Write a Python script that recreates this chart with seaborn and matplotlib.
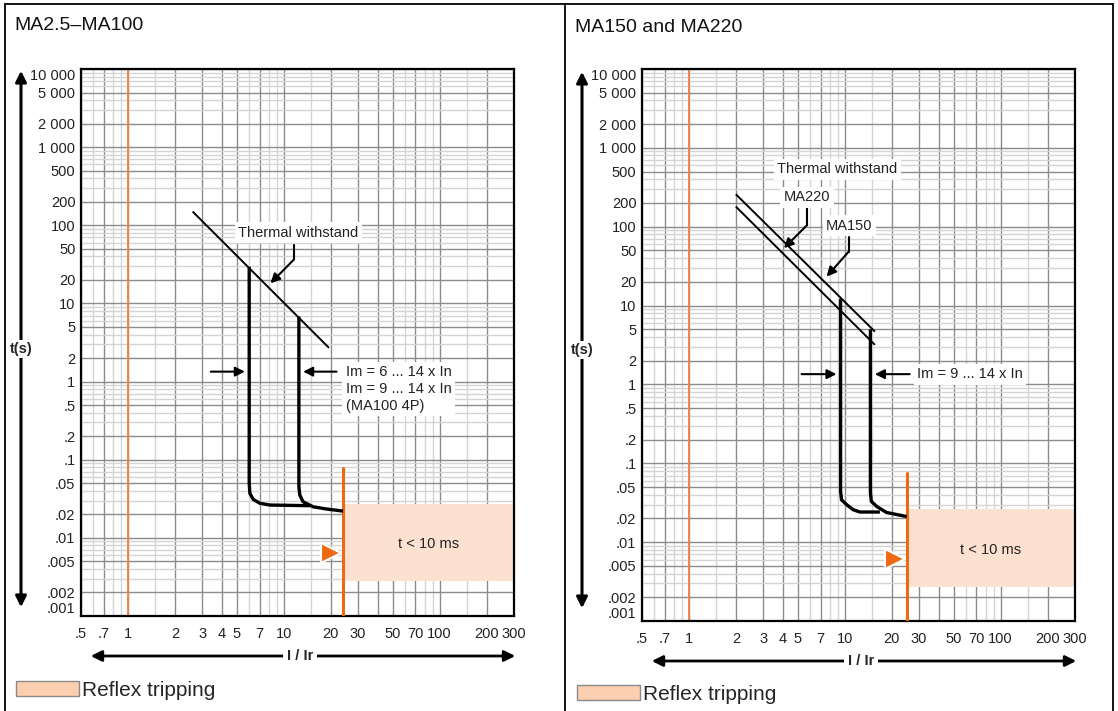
import matplotlib
matplotlib.use('Agg')
import matplotlib.pyplot as plt
from matplotlib.patches import Patch, FancyArrowPatch
from matplotlib.lines import Line2D
import seaborn as sns

sns.set_style('white')
plt.rcParams['font.family'] = ['Liberation Sans', 'DejaVu Sans']

W, H = 1118, 711

# axis ticks
x_ticks = [0.5, 0.7, 1, 2, 3, 4, 5, 7, 10, 20, 30, 40, 50, 70, 100, 200, 300]
x_labels = ['.5', '.7', '1', '2', '3', '4', '5', '7', '10', '20', '30', '', '50', '70', '100', '200', '300']
x_minor = [0.6, 0.8, 0.9, 1.5, 6, 8, 9, 15, 60, 80, 90, 150]
y_ticks = [0.001, 0.002, 0.005, 0.01, 0.02, 0.05, 0.1, 0.2, 0.5, 1, 2, 5, 10, 20, 50,
           100, 200, 500, 1000, 2000, 5000, 10000]
y_labels = ['.001', '.002', '.005', '.01', '.02', '.05', '.1', '.2', '.5', '1', '2', '5', '10',
            '20', '50', '100', '200', '500', '1 000', '2 000', '5 000', '10 000']
y_minor = [m * 10.0 ** e for e in range(-3, 4) for m in (3, 4, 6, 7, 8, 9)]

# left panel: MA2.5-MA100
left_thermal_x = [2.6, 19.5]
left_thermal_y = [150, 2.7]
left_im6_x = [6.0, 6.0, 6.06, 6.36, 7.02, 8.14, 14.7]
left_im6_y = [29.5, 0.050, 0.0371, 0.0311, 0.0277, 0.0263, 0.0258]
left_im14_x = [12.5, 12.5, 12.67, 13.3, 15.4, 18.8, 24.0]
left_im14_y = [6.8, 0.0452, 0.0353, 0.029, 0.025, 0.0234, 0.0220]
left_reflex_x = 24
left_reflex_top = 0.078
left_box_y = [0.0028, 0.027]

# right panel: MA150 and MA220
right_ma220_x = [2.0, 15.6]
right_ma220_y = [258, 4.68]
right_ma150_x = [2.0, 15.6]
right_ma150_y = [180, 3.18]
right_im9_x = [9.4, 9.4, 9.53, 10.3, 11.3, 12.5, 16.8]
right_im9_y = [12.2, 0.044, 0.0344, 0.0298, 0.0258, 0.0241, 0.0241]
right_im14_x = [14.6, 14.6, 14.8, 16.0, 18.5, 25.0]
right_im14_y = [5.0, 0.043, 0.0329, 0.0284, 0.0238, 0.0211]
right_reflex_x = 25
right_reflex_top = 0.075
right_box_y = [0.0027, 0.0262]

ORANGE = '#ee6a12'
BOX = '#fce1d1'

fig = plt.figure(figsize=(W / 100, H / 100), dpi=100)


def fx(px):
    return px / W


def fy(py):
    return 1 - py / H


def style_axes(ax):
    ax.set_xscale('log')
    ax.set_yscale('log')
    ax.set_xlim(0.5, 300)
    ax.set_ylim(0.001, 10000)
    ax.set_xticks(x_ticks, x_labels)
    ax.set_xticks(x_minor, minor=True)
    ax.set_yticks(y_ticks, y_labels)
    ax.set_yticks(y_minor, minor=True)
    ax.tick_params(which='both', length=0)
    ax.tick_params(axis='x', labelsize=10.5, pad=8, labelcolor='#222222')
    ax.tick_params(axis='y', labelsize=10.5, pad=4, labelcolor='#222222')
    ax.xaxis.set_minor_formatter(plt.NullFormatter())
    ax.yaxis.set_minor_formatter(plt.NullFormatter())
    ax.set_axisbelow(True)
    ax.grid(which='major', color='#8c8c8c', lw=1.0)
    ax.grid(which='minor', color='#d4d4d4', lw=1.0)
    for s in ax.spines.values():
        s.set_color('black')
        s.set_linewidth(1.6)
    ylab = ax.get_yticklabels()
    ylab[0].set_va('bottom')
    ylab[-1].set_va('top')
    ax.axvline(1, color='#f0823c', lw=1.3, zorder=1)


def reflex(ax, xr, top, box_y):
    ax.fill_between([xr, 300], box_y[0], box_y[1], color=BOX, lw=0, zorder=1.5)
    ax.plot([xr, xr], [0.001, top], color=ORANGE, lw=2.2, zorder=3)
    ax.text((xr * 300) ** 0.5, (box_y[0] * box_y[1]) ** 0.5 * 0.95, 't < 10 ms',
            ha='center', va='center', fontsize=10.5, color='#222222', zorder=4)


def label(ax, x, y, s, **kw):
    ax.text(x, y, s, fontsize=10.5, color='#222222', zorder=5,
            bbox=dict(fc='white', ec='none', pad=2.5), **kw)


def leader(ax, x, ytop, yelbow, tip):
    ax.plot([x, x], [ytop, yelbow], color='black', lw=1.5, zorder=4)
    ax.annotate('', xy=tip, xytext=(x, yelbow),
                arrowprops=dict(arrowstyle='-|>', color='black', lw=1.5,
                                mutation_scale=14, shrinkA=0, shrinkB=0), zorder=4)


def harrow(ax, x0, x1, y):
    ax.annotate('', xy=(x1, y), xytext=(x0, y),
                arrowprops=dict(arrowstyle='-|>', color='black', lw=1.5,
                                mutation_scale=14, shrinkA=0, shrinkB=0), zorder=4)


def curve(ax, xs, ys, lw):
    sns.lineplot(x=xs, y=ys, ax=ax, color='black', lw=lw, sort=False,
                 estimator=None, legend=False, zorder=3,
                 solid_joinstyle='round', solid_capstyle='butt')


# ---- left panel
ax_l = fig.add_axes([fx(81), fy(616), fx(514) - fx(81), fy(69) - fy(616)])
style_axes(ax_l)
reflex(ax_l, left_reflex_x, left_reflex_top, left_box_y)
curve(ax_l, left_thermal_x, left_thermal_y, 1.4)
curve(ax_l, left_im6_x, left_im6_y, 2.4)
curve(ax_l, left_im14_x, left_im14_y, 2.4)
ax_l.plot([20.2], [0.00634], marker='>', ms=14, color=ORANGE, mec='white', mew=1.5, zorder=5)
label(ax_l, 12.4, 80.4, 'Thermal withstand', ha='center', va='center')
leader(ax_l, 11.65, 56, 36.7, (8.22, 18.1))
harrow(ax_l, 3.4, 5.63, 1.34)
harrow(ax_l, 21.8, 13.3, 1.34)
label(ax_l, 24.9, 0.80, 'Im = 6 ... 14 x In\nIm = 9 ... 14 x In\n(MA100 4P)',
      ha='left', va='center', linespacing=1.25)

# ---- right panel
ax_r = fig.add_axes([fx(642), fy(621), fx(1075) - fx(642), fy(69) - fy(621)])
style_axes(ax_r)
reflex(ax_r, right_reflex_x, right_reflex_top, right_box_y)
curve(ax_r, right_ma220_x, right_ma220_y, 1.4)
curve(ax_r, right_ma150_x, right_ma150_y, 1.4)
curve(ax_r, right_im9_x, right_im9_y, 2.4)
curve(ax_r, right_im14_x, right_im14_y, 2.4)
ax_r.plot([20.9], [0.0062], marker='>', ms=14, color=ORANGE, mec='white', mew=1.5, zorder=5)
label(ax_r, 8.96, 535, 'Thermal withstand', ha='center', va='center')
label(ax_r, 5.74, 237, 'MA220', ha='center', va='center')
label(ax_r, 10.7, 103, 'MA150', ha='center', va='center')
leader(ax_r, 5.74, 171, 105, (4.07, 53.5))
leader(ax_r, 10.6, 75, 48.3, (7.64, 23.3))
harrow(ax_r, 5.28, 8.85, 1.35)
harrow(ax_r, 26.1, 15.6, 1.35)
label(ax_r, 29.1, 1.35, 'Im = 9 ... 14 x In', ha='left', va='center')

# ---- frame, titles, axis arrows, legends
for (x0, y0, x1, y1) in [(5, 4, 1113, 4), (5, 4, 5, 711), (565, 4, 565, 711), (1113, 4, 1113, 711)]:
    fig.add_artist(Line2D([fx(x0), fx(x1)], [fy(y0), fy(y1)], color='black', lw=1.3))

for xoff, title, dy in [(0, 'MA2.5–MA100', 0), (561, 'MA150 and MA220', 1)]:
    fig.text(fx(14 + xoff), fy(26 + dy), title, fontsize=14, ha='left', va='center', color='#111111')
    fig.add_artist(FancyArrowPatch((fx(21 + xoff), fy(610 + dy)), (fx(21 + xoff), fy(68 + dy)),
                                   transform=fig.transFigure, arrowstyle='<|-|>',
                                   mutation_scale=16, lw=2.2, color='black'))
    fig.text(fx(21 + xoff), fy(349 + dy), 't(s)', fontsize=10.5, fontweight='bold',
             ha='center', va='center', bbox=dict(fc='white', ec='none', pad=1.5))
    fig.add_artist(FancyArrowPatch((fx(88 + xoff), fy(656 + dy * 5)), (fx(518 + xoff), fy(656 + dy * 5)),
                                   transform=fig.transFigure, arrowstyle='<|-|>',
                                   mutation_scale=16, lw=2.0, color='black'))
    fig.text(fx(300 + xoff), fy(656 + dy * 5), 'I / Ir', fontsize=10.5, fontweight='bold',
             ha='center', va='center', bbox=dict(fc='white', ec='none', pad=3))
    fig.legend(handles=[Patch(facecolor='#fccfb1', edgecolor='#8a8a8a', lw=1)],
               labels=['Reflex tripping'], loc='center left',
               bbox_to_anchor=(fx(16 + xoff), fy(690 + dy * 4)), frameon=False,
               fontsize=15, handlelength=3.0, handleheight=0.7, handletextpad=0.15,
               borderpad=0, borderaxespad=0)

fig.savefig('out.png', dpi=100)
